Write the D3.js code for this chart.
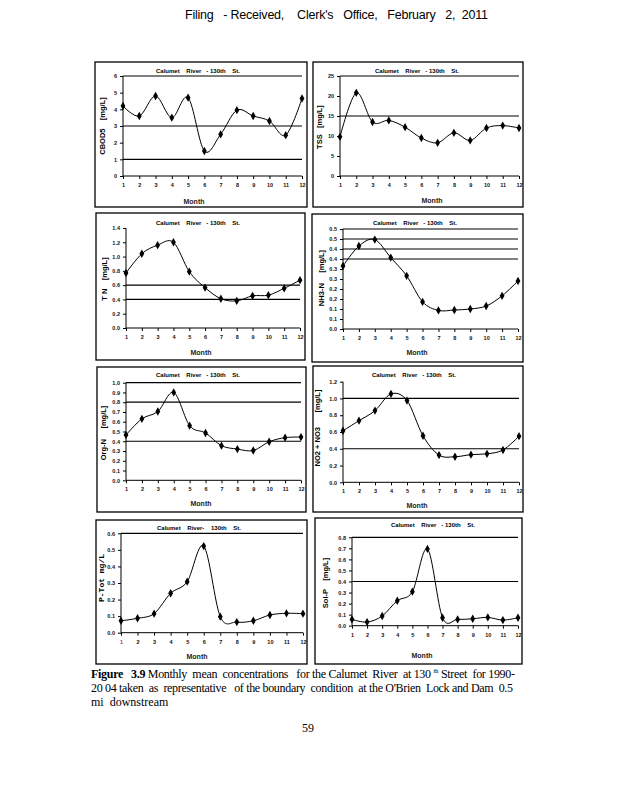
<!DOCTYPE html>
<html>
<head>
<meta charset="utf-8">
<script src="https://cdn.jsdelivr.net/npm/d3@7"></script>
<style>
html,body{margin:0;padding:0;background:#fff;}
svg{display:block;}
text{white-space:pre;}
</style>
</head>
<body>
<svg id="c" width="618" height="800"></svg>
<script>
// ---------- DATA ----------
const months = [1,2,3,4,5,6,7,8,9,10,11,12];
const cbod5 = [4.2,3.6,4.8,3.5,4.7,1.5,2.5,3.95,3.6,3.3,2.45,4.65];
const tss   = [9.8,20.8,13.5,13.9,12.2,9.5,8.3,10.8,8.9,12.0,12.6,12.0];
const tn    = [0.77,1.04,1.16,1.20,0.79,0.565,0.41,0.38,0.45,0.46,0.555,0.67];
const nh3n  = [0.315,0.415,0.447,0.357,0.266,0.136,0.093,0.095,0.100,0.115,0.166,0.240];
const orgn  = [0.465,0.63,0.705,0.90,0.56,0.485,0.355,0.32,0.305,0.395,0.437,0.443];
const no23  = [0.615,0.735,0.855,1.055,0.975,0.555,0.325,0.305,0.33,0.34,0.385,0.55];
const ptot  = [0.072,0.087,0.115,0.238,0.308,0.523,0.097,0.064,0.072,0.107,0.117,0.115];
const solp  = [0.057,0.033,0.088,0.226,0.308,0.695,0.072,0.057,0.063,0.075,0.051,0.072];

const seriesNames = ["CBOD5    [mg/L]","TSS   [mg/L]","T N    [mg/L]","NH3-N     [mg/L]",
                     "Org-N     [mg/L]","NO2 + NO3       [mg/L]","P-Tot mg/L","Sol-P    [mg/L]"];
const yMax   = [6,25,1.4,0.5,1.0,1.2,0.6,0.8];
const yStep  = [1,5,0.2,0.05,0.1,0.2,0.1,0.1];
const yDec   = [0,0,1,1,1,1,1,1];
const refLines = [[6,3,1],[25,15],[0.6,0.4],[0.5,0.45,0.4,0.35],[1.0,0.8,0.4],[1.0,0.4],[0.6],[0.8,0.4]];
const titles = ["Calumet    River   - 130th    St.","Calumet    River   - 130th    St.",
  "Calumet    River   - 130th    St.","Calumet    River   - 130th    St.",
  "Calumet    River   - 130th    St.","Calumet    River   - 130th    St.",
  "Calumet    River-    130th    St.","Calumet    River   - 130th    St."];
const values = [cbod5,tss,tn,nh3n,orgn,no23,ptot,solp];

const headerText = "Filing   - Received,    Clerk's   Office,   February   2,  2011";
const captionBold = "Figure   3.9";
const caption1 = " Monthly  mean  concentrations   for the Calumet  River  at 130 ";
const caption1b = " Street  for 1990-";
const caption2 = "20 04 taken  as  representative   of the boundary  condition  at the O'Brien  Lock and Dam  0.5";
const caption3 = "mi  downstream";
const pageNum = "59";

// ---------- LAYOUT ----------
const layout = [
  {box:[95,62,307,207],  x0:123,x1:302,yT:76,  yB:176,  tx:198,ty:73,  mx:194,my:204, lx:102,ly:126},
  {box:[313,62,523,207], x0:340,x1:519,yT:76,  yB:176,  tx:417,ty:73,  mx:432,my:203, lx:319,ly:127},
  {box:[96,213,305,360], x0:126,x1:300,yT:228, yB:328,  tx:198,ty:225, mx:201,my:355, lx:104,ly:279},
  {box:[312,214,523,362],x0:343,x1:518,yT:229, yB:329,  tx:415,ty:225, mx:417,my:355, lx:321,ly:278},
  {box:[97,367,306,512], x0:126,x1:301,yT:382.7,yB:480.3,tx:198,ty:377, mx:201,my:506, lx:103,ly:433},
  {box:[313,366,523,512],x0:343,x1:519,yT:381.7,yB:482.3,tx:414,ty:377, mx:417,my:508, lx:317,ly:428},
  {box:[96,520,307,664], x0:121,x1:303,yT:533.3,yB:632.7,tx:199,ty:530, mx:197,my:659, lx:101,ly:578},
  {box:[315,518,522,664],x0:352,x1:518,yT:537.3,yB:625.7,tx:433,ty:527, mx:422,my:658, lx:325,ly:583}
];

const svg = d3.select("#c");
const F = "Arial, 'Liberation Sans', sans-serif";

// header
svg.append("text").attr("x",185).attr("y",19).attr("font-family",F).attr("font-size",12.5)
  .attr("textLength",303).attr("lengthAdjust","spacing").text(headerText);

layout.forEach((L,i)=>{
  const g = svg.append("g");
  const b = L.box;
  g.append("rect").attr("x",b[0]).attr("y",b[1]).attr("width",b[2]-b[0]).attr("height",b[3]-b[1])
    .attr("fill","#fff").attr("stroke","#000").attr("stroke-width",1.3);

  const x = d3.scaleLinear().domain([1,12]).range([L.x0,L.x1]);
  const y = d3.scaleLinear().domain([0,yMax[i]]).range([L.yB,L.yT]);
  const n = Math.round(yMax[i]/yStep[i]);
  const ticks = d3.range(n+1).map(k=>k*yStep[i]);
  const fmt = v => (Math.round(v*Math.pow(10,yDec[i])+1e-9)/Math.pow(10,yDec[i])).toFixed(yDec[i]);

  // y axis
  const ya = d3.axisLeft(y).tickValues(ticks).tickFormat(fmt).tickSize(3).tickPadding(3);
  const yg = g.append("g").attr("transform",`translate(${L.x0},0)`).call(ya);
  // x axis
  const xa = d3.axisBottom(x).tickValues(months).tickFormat(d3.format("d")).tickSize(3).tickPadding(4);
  const xg = g.append("g").attr("transform",`translate(0,${L.yB})`).call(xa);
  [yg,xg].forEach(a=>{
    a.select(".domain").attr("stroke","#000").attr("stroke-width",1);
    a.selectAll(".tick line").attr("stroke","#000");
    a.selectAll(".tick text").attr("font-family",F).attr("font-size",5.5).attr("font-weight","bold").attr("fill","#111");
  });
  xg.select(".domain").attr("d",`M${L.x0},0H${L.x1}`);
  yg.select(".domain").attr("d",`M0,${L.yT}V${L.yB}`);
  if(i===6) xg.selectAll(".tick text").filter(d=>d===1).attr("fill","#c03050");

  // reference lines
  g.selectAll(".ref").data(refLines[i]).enter().append("line")
    .attr("x1",L.x0).attr("x2",L.x1).attr("y1",d=>y(d)).attr("y2",d=>y(d))
    .attr("stroke","#000").attr("stroke-width",1.2);

  // series
  const data = months.map((m,k)=>[m,values[i][k]]);
  const line = d3.line().x(d=>x(d[0])).y(d=>y(d[1])).curve(d3.curveCardinal.tension(0));
  g.append("path").datum(data).attr("d",line).attr("fill","none").attr("stroke","#000").attr("stroke-width",1);
  g.selectAll(".pt").data(data).enter().append("path")
    .attr("transform",d=>`translate(${x(d[0])},${y(d[1])})`)
    .attr("d",d3.symbol(d3.symbolDiamond,20)).attr("fill","#000");

  // title
  g.append("text").attr("x",L.tx).attr("y",L.ty).attr("text-anchor","middle").attr("font-family",F)
    .attr("font-size",6).attr("font-weight","bold").text(titles[i]);
  // Month
  g.append("text").attr("x",L.mx).attr("y",L.my).attr("text-anchor","middle").attr("font-family",F)
    .attr("font-size",7).attr("font-weight","bold").attr("fill","#222").text("Month");
  // y label
  g.append("text").attr("transform",`translate(${L.lx},${L.ly}) rotate(-90)`).attr("text-anchor","middle")
    .attr("dominant-baseline","central")
    .attr("font-family", i===6 ? "'Liberation Mono','DejaVu Sans Mono',monospace" : F)
    .attr("font-size", i===6 ? 8 : 7.5).attr("font-weight","bold").text(seriesNames[i]);
});

// caption
const SF = "'Liberation Serif','Times New Roman',serif";
const t1 = svg.append("text").attr("x",91).attr("y",678).attr("font-family",SF).attr("font-size",12)
  .attr("textLength",424).attr("lengthAdjust","spacing");
t1.append("tspan").attr("font-weight","bold").text(captionBold);
t1.append("tspan").text(caption1);
t1.append("tspan").attr("font-size",7).attr("dy",-5).text("th");
t1.append("tspan").attr("dy",5).text(caption1b);
svg.append("text").attr("x",91).attr("y",692).attr("font-family",SF).attr("font-size",12)
  .attr("textLength",422).attr("lengthAdjust","spacing").text(caption2);
svg.append("text").attr("x",91).attr("y",706).attr("font-family",SF).attr("font-size",12).text(caption3);
svg.append("text").attr("x",308).attr("y",732).attr("text-anchor","middle").attr("font-family",SF).attr("font-size",12).text(pageNum);
</script>
</body>
</html>
